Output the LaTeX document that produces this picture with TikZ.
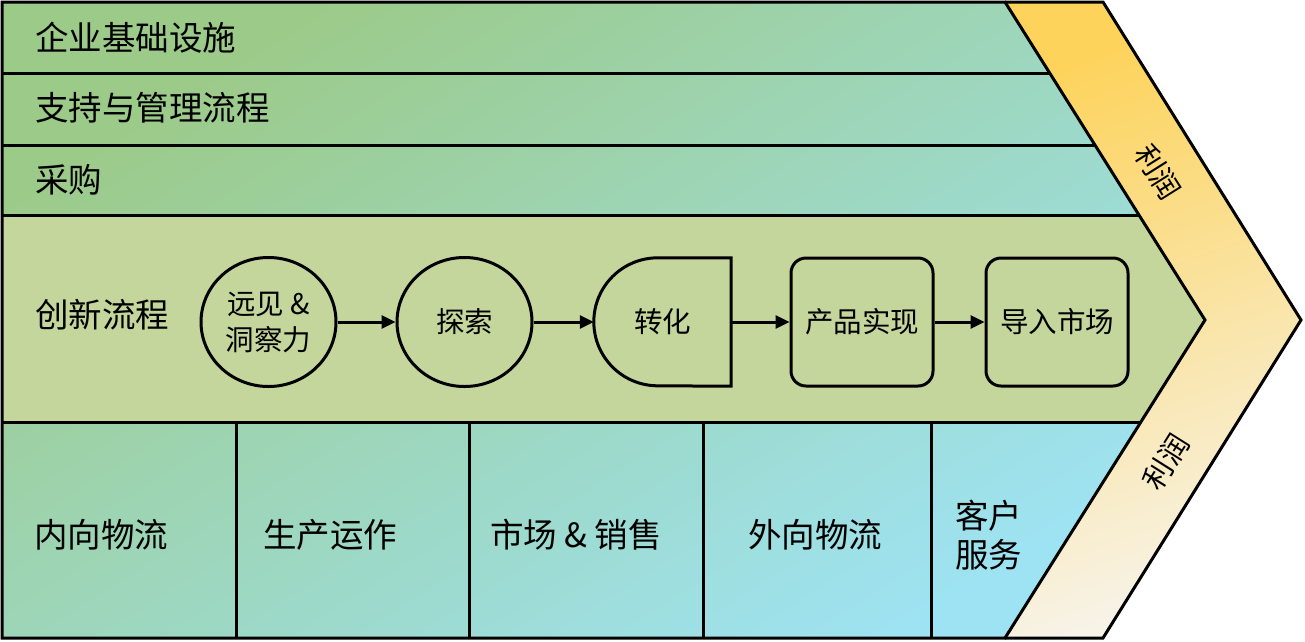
\documentclass[tikz,border=0pt]{standalone}
\usepackage{fontspec}
\setmainfont{Noto Sans CJK SC}
\usetikzlibrary{arrows.meta,shapes.geometric}
\definecolor{gA}{HTML}{9CCA88}
\definecolor{gB}{HTML}{9EE3F3}
\definecolor{inno}{HTML}{C4D69C}
\definecolor{yA}{HTML}{FDD35B}
\definecolor{yB}{HTML}{F7F3E8}
\tikzset{
  ln/.style={line width=3pt, line join=miter, draw=black},
  big/.style={font=\fontsize{33.5}{39}\selectfont, anchor=west, inner sep=0pt, align=left},
  small/.style={font=\fontsize{28.5}{36}\selectfont, inner sep=0pt, align=center},
  circ/.style={ellipse, draw, line width=3pt, fill=inno, minimum width=135pt, minimum height=129pt, small},
  rbox/.style={rectangle, rounded corners=15pt, draw, line width=3pt, fill=inno, minimum width=142pt, minimum height=128pt, small},
  arr/.style={line width=3pt, -{Triangle[length=14pt,width=13pt]}},
  profit/.style={font=\fontsize{29}{30}\selectfont, inner sep=0pt}
}
\begin{document}
\begin{tikzpicture}[x=1pt,y=1pt]
\useasboundingbox (0,0) rectangle (1305,-641);
% main body with gradient
\shade[top color=gA, bottom color=gB, shading angle=32]
  (2,-2) -- (1005,-2) -- (1205,-320) -- (1005,-638) -- (2,-638) -- cycle;
% innovation band
\fill[inno] (2,-215) -- (1139,-215) -- (1205,-320) -- (1141,-422) -- (2,-422) -- cycle;
% chevron
\shade[top color=yA, bottom color=yB, shading angle=20]
  (1005,-2) -- (1103,-2) -- (1301,-320) -- (1103,-638) -- (1005,-638) -- (1205,-320) -- cycle;
% lines
\draw[ln] (1205,-320) -- (1005,-638) -- (2,-638) -- (2,-2) -- (1005,-2) -- cycle;
\draw[ln] (2,-73) -- (1050,-73);
\draw[ln] (2,-145) -- (1095,-145);
\draw[ln] (2,-215) -- (1139,-215);
\draw[ln] (2,-422) -- (1141,-422);
\draw[ln] (236,-422) -- (236,-638);
\draw[ln] (469,-422) -- (469,-638);
\draw[ln] (703,-422) -- (703,-638);
\draw[ln] (931,-422) -- (931,-638);
\draw[ln] (1005,-2) -- (1103,-2) -- (1301,-320) -- (1103,-638) -- (1005,-638);
% row labels
\node[big] (infra) at (35,-38) {企业基础设施};
\node[big] (supp) at (35,-108) {支持与管理流程};
\node[big] (proc) at (35,-180) {采购};
\node[big] (innov) at (35,-315) {创新流程};
\node[big] (inb) at (34,-535) {内向物流};
\node[big] (ops) at (263,-535) {生产运作};
\node[big] (mkt) at (490,-535) {市场 \& 销售};
\node[big] (outb) at (748,-535) {外向物流};
\node[big] (svc) at (955,-535) {客户\\服务};
% process nodes
\node[circ] (c1) at (268.5,-322) {远见 \&\\洞察力};
\node[circ] (c2) at (464.5,-322) {探索};
\node[rectangle, minimum width=137pt, minimum height=128pt, small, inner sep=0pt] (c3) at (662.5,-322) {};
\draw[line width=3pt, fill=inno] (c3.north east) -- ([xshift=64pt]c3.north west) arc (90:270:64pt) -- (c3.south east) -- cycle;
\node[small] at (c3) {转化};
\node[rbox] (c4) at (862,-322) {产品实现};
\node[rbox] (c5) at (1057,-322) {导入市场};
\draw[arr] (c1) -- (c2);
\draw[arr] (c2) -- (c3);
\draw[arr] (c3) -- (c4);
\draw[arr] (c4) -- (c5);
% profit labels
\node[profit, rotate=-57.8] (p1) at (1158,-172) {利润};
\node[profit, rotate=57.8] (p2) at (1166,-462) {利润};
\end{tikzpicture}
\end{document}
